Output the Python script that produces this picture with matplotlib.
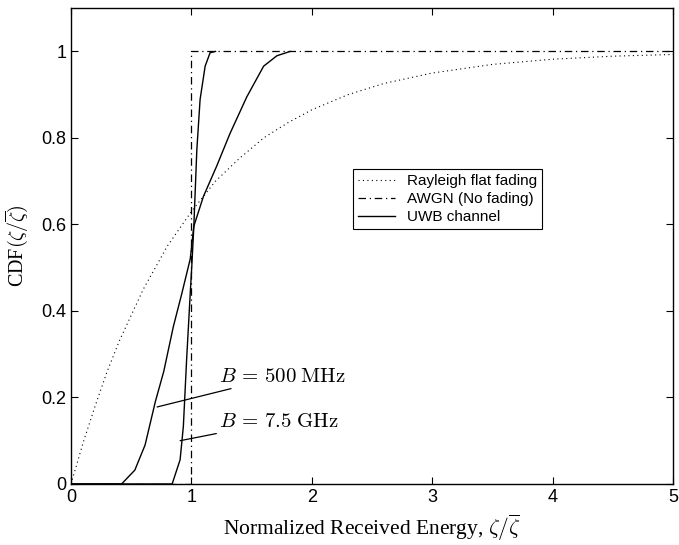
import numpy as np
import matplotlib.pyplot as plt

# Rayleigh flat fading CDF
ray_x = [0.0, 0.1, 0.2, 0.3, 0.4, 0.5, 0.6, 0.7, 0.8, 0.9, 1.0, 1.2, 1.4, 1.6,
         1.8, 2.0, 2.3, 2.6, 3.0, 3.5, 4.0, 4.5, 5.0]
ray_y = [0.0, 0.095, 0.18, 0.26, 0.33, 0.39, 0.45, 0.50, 0.55, 0.59, 0.63,
         0.70, 0.753, 0.80, 0.835, 0.865, 0.90, 0.926, 0.95, 0.97, 0.982,
         0.989, 0.993]

# AWGN (no fading): step at 1
awgn_x = [0.0, 1.0, 1.0, 5.0]
awgn_y = [0.0, 0.0, 1.0, 1.0]

# UWB channel, B = 500 MHz
uwb500_x = [0.0, 0.42, 0.53, 0.615, 0.70, 0.77, 0.85, 0.92, 0.99, 1.02, 1.10,
            1.21, 1.32, 1.46, 1.60, 1.71, 1.82]
uwb500_y = [0.0, 0.0, 0.032, 0.09, 0.19, 0.26, 0.364, 0.44, 0.52, 0.596,
            0.665, 0.735, 0.81, 0.895, 0.966, 0.99, 1.0]

# UWB channel, B = 7.5 GHz
uwb75_x = [0.0, 0.84, 0.906, 0.933, 0.96, 0.99, 1.003, 1.02, 1.045, 1.072,
           1.114, 1.155, 1.2]
uwb75_y = [0.0, 0.0, 0.056, 0.133, 0.287, 0.44, 0.503, 0.596, 0.773, 0.889,
           0.966, 0.997, 1.0]

xticks = [0, 1, 2, 3, 4, 5]
yticks = [0, 0.2, 0.4, 0.6, 0.8, 1]
ytick_labels = ['0', '0.2', '0.4', '0.6', '0.8', '1']

plt.rcParams['mathtext.fontset'] = 'cm'

fig = plt.figure(figsize=(6.79, 5.45), dpi=100)
ax = fig.add_axes([0.1046, 0.112, 0.8866, 0.873])

ax.plot(ray_x, ray_y, color='black', linestyle=(0, (1, 3)), linewidth=0.8,
        label='Rayleigh flat fading')
ax.plot(awgn_x, awgn_y, color='black', linestyle=(0, (6, 3, 1, 3)),
        linewidth=0.9, label='AWGN (No fading)')
ax.plot(uwb500_x, uwb500_y, color='black', linewidth=1.0, label='UWB channel')
ax.plot(uwb75_x, uwb75_y, color='black', linewidth=1.0)

# callouts
ax.annotate(r'$B\,=\,500\;\mathrm{MHz}$', xy=(0.715, 0.178), xytext=(1.23, 0.25),
            fontsize=15, va='center',
            arrowprops=dict(arrowstyle='-', color='black', lw=0.9,
                            shrinkA=0, shrinkB=0))
ax.annotate(r'$B\,=\,7.5\;\mathrm{GHz}$', xy=(0.906, 0.10), xytext=(1.23, 0.145),
            fontsize=15, va='center',
            arrowprops=dict(arrowstyle='-', color='black', lw=0.9,
                            shrinkA=0, shrinkB=0))

ax.set_xlim(0, 5)
ax.set_ylim(0, 1.1)
ax.set_xticks(xticks)
ax.set_yticks(yticks)
ax.set_xticklabels([str(t) for t in xticks], family='Liberation Sans', fontsize=13)
ax.set_yticklabels(ytick_labels, family='Liberation Sans', fontsize=13)
ax.tick_params(direction='in', top=True, right=True, length=5, width=0.8)
for s in ax.spines.values():
    s.set_linewidth(1.0)

ax.set_xlabel(r'Normalized Received Energy, $\zeta/\overline{\zeta}$',
              family='Liberation Serif', fontsize=15.5, labelpad=5)
ax.set_ylabel(r'CDF$(\zeta/\overline{\zeta})$', family='Liberation Serif',
              fontsize=14.5, labelpad=7)

leg = ax.legend(loc='upper left', bbox_to_anchor=(0.468, 0.662),
                prop={'family': 'Liberation Sans', 'size': 11},
                fancybox=False, framealpha=1, edgecolor='black',
                handlelength=2.4, borderpad=0.35, labelspacing=0.25,
                handletextpad=0.8, borderaxespad=0)
leg.get_frame().set_linewidth(0.8)

fig.savefig('out.png', dpi=100)
